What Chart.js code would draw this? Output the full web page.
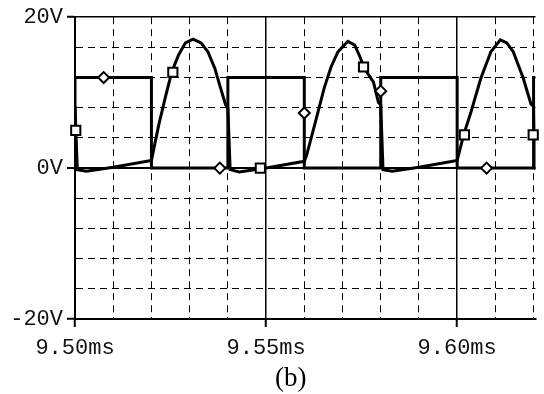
<!DOCTYPE html>
<html>
<head>
<meta charset="utf-8">
<script src="https://cdn.jsdelivr.net/npm/chart.js@4.4.1/dist/chart.umd.min.js"></script>
<style>
  html, body { margin: 0; padding: 0; background: #fff; }
  #wrap { position: relative; width: 544px; height: 394px; }
  #caption {
    position: absolute; left: 275px; top: 364px;
    font-family: "Liberation Serif", serif; font-size: 27px; line-height: 27px; color: #000;
  }
</style>
</head>
<body>
<div id="wrap">
  <canvas id="scope"></canvas>
  <div id="caption">(b)</div>
</div>
<script>
// gate drive (diamond markers), time in ms, volts
var gateTime  = [9.50, 9.50, 9.52, 9.52, 9.54, 9.54, 9.56, 9.56, 9.58, 9.58, 9.60, 9.60, 9.62, 9.62, 9.6205];
var gateVolts = [0, 12, 12, 0, 0, 12, 12, 0, 0, 12, 12, 0, 0, 12, 12];

// switch voltage (square markers)
var outTime = [9.5000, 9.5006, 9.5030, 9.5100, 9.5200, 9.5219, 9.5237, 9.5253, 9.5271, 9.5289,
  9.5309, 9.5330, 9.5348, 9.5366, 9.5381, 9.5394, 9.5400, 9.5406, 9.5430, 9.5500,
  9.5600, 9.5606, 9.5630, 9.5652, 9.5670, 9.5688, 9.5714, 9.5732, 9.5747, 9.5755,
  9.5781, 9.5794, 9.5800, 9.5806, 9.5830, 9.5900, 9.6000, 9.6017, 9.6036, 9.6062,
  9.6088, 9.6113, 9.6130, 9.6147, 9.6173, 9.6193, 9.6200, 9.6205];
var outVolts = [8.3, -0.2, -0.4, 0.1, 1.0, 5.7, 9.5, 12.7, 15.0, 16.6,
  17.1, 16.6, 15.4, 13.2, 10.6, 8.4, 8.0, -0.2, -0.5, 0.0,
  0.9, 1.7, 6.3, 10.6, 13.4, 15.4, 16.8, 16.3, 14.6, 13.4,
  11.4, 8.7, 8.4, -0.2, -0.4, 0.1, 1.0, 4.4, 7.4, 11.9,
  15.4, 17.0, 16.6, 15.4, 11.9, 8.5, 8.2, -0.2];

// probe markers
var gateMarkTime  = [9.5075, 9.5379, 9.5600, 9.5800, 9.6077];
var gateMarkVolts = [12, 0, 7.3, 10.2, 0];
var outMarkTime   = [9.5002, 9.5256, 9.5485, 9.5755, 9.6019, 9.6199];
var outMarkVolts  = [5.0, 12.7, 0, 13.4, 4.4, 4.4];

var xLabels = [9.50, 9.55, 9.60];
var yLabels = [20, 0, -20];

function pts(xs, ys) {
  return xs.map(function (x, i) { return { x: x, y: ys[i] }; });
}
function isXLabel(v) { return Math.round(v * 100) % 5 === 0; }
function isYLabel(v) { return yLabels.indexOf(Math.round(v)) >= 0; }

var monoFont = { family: '"Liberation Mono", "DejaVu Sans Mono", monospace', size: 22 };

new Chart(document.getElementById('scope'), {
  type: 'line',
  data: {
    datasets: [
      {
        type: 'scatter', data: pts(gateMarkTime, gateMarkVolts), showLine: false, clip: false,
        pointStyle: 'rectRot', pointRadius: 5.5, pointBorderWidth: 2,
        pointBorderColor: '#000', pointBackgroundColor: '#fff'
      },
      {
        type: 'scatter', data: pts(outMarkTime, outMarkVolts), showLine: false, clip: false,
        pointStyle: 'rect', pointRadius: 6.5, pointBorderWidth: 2,
        pointBorderColor: '#000', pointBackgroundColor: '#fff'
      },
      {
        data: pts(outTime, outVolts), borderColor: '#000', borderWidth: 3,
        pointRadius: 0, tension: 0, fill: false
      },
      {
        data: pts(gateTime, gateVolts), borderColor: '#000', borderWidth: 3,
        pointRadius: 0, tension: 0, fill: false
      }
    ]
  },
  options: {
    responsive: true,
    maintainAspectRatio: false,
    animation: false,
    layout: { padding: { left: 0, top: 17, right: 2, bottom: 0 } },
    plugins: { legend: { display: false }, tooltip: { enabled: false } },
    scales: {
      x: {
        type: 'linear', min: 9.50, max: 9.6205,
        afterFit: function (s) { s.height = 75; },
        ticks: {
          stepSize: 0.01, includeBounds: false, autoSkip: false, maxRotation: 0,
          padding: 8, color: '#111', font: monoFont,
          callback: function (v) { return isXLabel(v) ? v.toFixed(2) + 'ms' : ''; }
        },
        grid: {
          color: '#000', tickLength: 8,
          lineWidth: function (c) { return c.tick && isXLabel(c.tick.value) ? 1.5 : 1; },
          tickColor: function (c) { return c.tick && isXLabel(c.tick.value) ? '#000' : 'rgba(0,0,0,0)'; },
          tickWidth: 2
        },
        border: {
          display: true, color: '#000', width: 2,
          dash: function (c) { return c.tick && isXLabel(c.tick.value) ? [] : [7, 5]; }
        }
      },
      y: {
        min: -20, max: 20,
        afterFit: function (s) { s.width = 75; },
        ticks: {
          stepSize: 4, autoSkip: false, padding: 4, color: '#111', font: monoFont,
          callback: function (v) { return isYLabel(v) ? v + 'V' : ''; }
        },
        grid: {
          color: '#000', tickLength: 8,
          lineWidth: function (c) { return c.tick && c.tick.value === 0 ? 2 : (c.tick && isYLabel(c.tick.value) ? 1.5 : 1); },
          tickColor: function (c) { return c.tick && isYLabel(c.tick.value) ? '#000' : 'rgba(0,0,0,0)'; },
          tickWidth: 2
        },
        border: {
          display: true, color: '#000', width: 2,
          dash: function (c) { return c.tick && isYLabel(c.tick.value) ? [] : [7, 5]; }
        }
      }
    }
  }
});
</script>
</body>
</html>
